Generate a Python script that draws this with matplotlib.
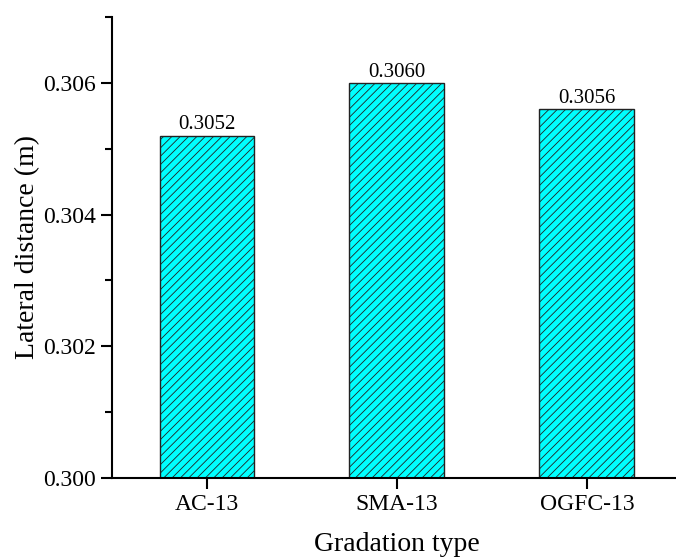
import matplotlib.pyplot as plt
from matplotlib.ticker import MultipleLocator

plt.rcParams['font.family'] = ['Liberation Serif', 'DejaVu Serif']
plt.rcParams['hatch.linewidth'] = 0.6

gradations = ['AC-13', 'SMA-13', 'OGFC-13']
lateral = [0.3052, 0.3060, 0.3056]
labels = ['0.3052', '0.3060', '0.3056']

fig = plt.figure(figsize=(6.76, 5.59), dpi=100)
ax = fig.add_axes([0.1657, 0.1449, 0.843, 0.8247])

x = range(1, len(gradations) + 1)
bars = ax.bar(x, lateral, width=0.5, color='#00ffff', edgecolor='#222222',
              linewidth=1.0, hatch='////', zorder=2)
for b, t in zip(bars, labels):
    ax.text(b.get_x() + b.get_width() / 2, b.get_height() + 0.00002, t,
            ha='center', va='bottom', fontsize=15)

ax.set_xlim(0.5, 3.5)
ax.set_ylim(0.300, 0.307)
ax.set_xticks(list(x))
ax.set_xticklabels(gradations)
ax.yaxis.set_major_locator(MultipleLocator(0.002))
ax.yaxis.set_minor_locator(MultipleLocator(0.001))
ax.yaxis.set_major_formatter(plt.FormatStrFormatter('%.3f'))

for s in ['top', 'right']:
    ax.spines[s].set_visible(False)
for s in ['left', 'bottom']:
    ax.spines[s].set_linewidth(1.5)

ax.tick_params(axis='both', which='major', direction='out', length=8, width=1.5, labelsize=17)
ax.tick_params(axis='y', which='minor', direction='out', length=5, width=1.5)
ax.tick_params(axis='x', which='minor', bottom=False)

ax.set_ylabel('Lateral distance (m)', fontsize=20, labelpad=2)
ax.set_xlabel('Gradation type', fontsize=20, labelpad=12)

fig.savefig('out.png', dpi=100)
